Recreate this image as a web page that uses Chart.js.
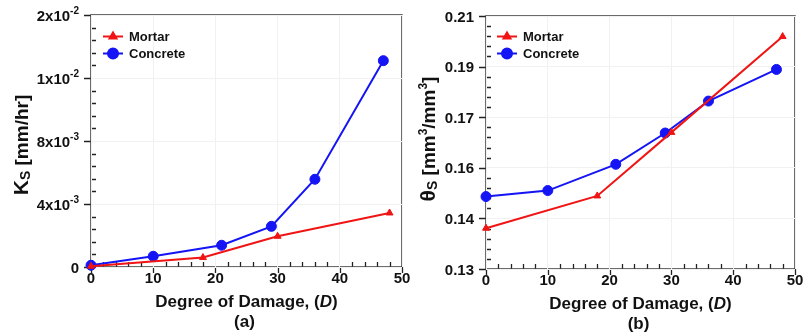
<!DOCTYPE html>
<html>
<head>
<meta charset="utf-8">
<script src="https://cdn.jsdelivr.net/npm/chart.js@4.4.1/dist/chart.umd.min.js"></script>
<style>
  html, body { margin: 0; padding: 0; background: #fff; }
  #wrap { position: relative; width: 804px; height: 335px; }
  #wrap canvas { position: absolute; left: 0; top: 0; }
</style>
</head>
<body>
<div id="wrap">
  <canvas id="ks" width="804" height="335"></canvas>
  <canvas id="theta" width="804" height="335"></canvas>
</div>
<script>
// Degree of damage at which each material was measured
const DAMAGE_MORTAR = [0, 18, 30, 48];
const DAMAGE_CONCRETE = [0, 10, 21, 29, 36, 47];

// Saturated hydraulic conductivity Ks [mm/hr]
const KS_MORTAR = [0.00005, 0.0006, 0.00195, 0.00343];
const KS_CONCRETE = [0.00011, 0.00068, 0.00138, 0.00258, 0.00557, 0.0131];

// Saturated water content θs [mm3/mm3]
const THETA_MORTAR = [0.1429, 0.1531, 0.1732, 0.2035];
const THETA_CONCRETE = [0.1529, 0.1548, 0.1631, 0.1730, 0.1831, 0.1931];

// Axis ticks and their printed labels (mantissa, exponent)
const X_TICKS = [0, 10, 20, 30, 40, 50];
const KS_TICKS = [0, 0.004, 0.008, 0.012, 0.016];
const KS_TICK_LABELS = [['0', ''], ['4x10', '-3'], ['8x10', '-3'], ['1x10', '-2'], ['2x10', '-2']];
const THETA_TICKS = [0.13, 0.146, 0.162, 0.178, 0.194, 0.21];
const THETA_TICK_LABELS = ['0.13', '0.14', '0.16', '0.17', '0.19', '0.21'];

const SERIES_NAMES = ['Mortar', 'Concrete'];
const RED = '#f01414';
const BLUE = '#1414f5';
const FONT = '"Liberation Sans", Arial, sans-serif';
const MINOR_DIV = 5;

function pairs(xs, ys) { return xs.map((x, i) => ({ x: x, y: ys[i] })); }

// Draw a run of text pieces (each with its own size / offset) as one label
function drawParts(ctx, parts, x, baseline, align) {
  let w = 0;
  parts.forEach(p => {
    ctx.font = (p.italic ? 'italic ' : '') + 'bold ' + p.size + 'px ' + FONT;
    p.w = ctx.measureText(p.text).width;
    w += p.w;
  });
  let cx = align === 'right' ? x - w : align === 'center' ? x - w / 2 : x;
  ctx.textAlign = 'left';
  ctx.textBaseline = 'alphabetic';
  parts.forEach(p => {
    ctx.font = (p.italic ? 'italic ' : '') + 'bold ' + p.size + 'px ' + FONT;
    ctx.fillText(p.text, cx, baseline + (p.dy || 0));
    cx += p.w;
  });
}

function makeDecor(cfg) {
  return {
    id: 'decor',
    afterDatasetsDraw(chart) {
      // frame and tick marks sit above the grid; markers are redrawn on top below
      const ctx = chart.ctx;
      const a = chart.chartArea;
      const xs = chart.scales.x, ys = chart.scales.y;
      ctx.save();
      ctx.globalCompositeOperation = 'destination-over';
      ctx.strokeStyle = '#3a3a3a';
      ctx.lineWidth = 1.5;
      ctx.strokeRect(a.left, a.top, a.right - a.left, a.bottom - a.top);
      ctx.lineWidth = 1.3;
      ctx.strokeStyle = '#222';
      ctx.beginPath();
      // x ticks: major outward, minor inward
      const xt = cfg.xTicks;
      for (let i = 0; i < xt.length; i++) {
        const px = Math.round(xs.getPixelForValue(xt[i])) + 0.5;
        ctx.moveTo(px, a.bottom); ctx.lineTo(px, a.bottom + 6);
        if (i < xt.length - 1) {
          const step = (xt[i + 1] - xt[i]) / MINOR_DIV;
          for (let k = 1; k < MINOR_DIV; k++) {
            const mx = Math.round(xs.getPixelForValue(xt[i] + k * step)) + 0.5;
            ctx.moveTo(mx, a.bottom); ctx.lineTo(mx, a.bottom - 5);
          }
        }
      }
      const yt = cfg.yTicks;
      for (let i = 0; i < yt.length; i++) {
        const py = Math.round(ys.getPixelForValue(yt[i])) + 0.5;
        ctx.moveTo(a.left, py); ctx.lineTo(a.left - 7, py);
        if (i < yt.length - 1) {
          const step = (yt[i + 1] - yt[i]) / MINOR_DIV;
          for (let k = 1; k < MINOR_DIV; k++) {
            const my = Math.round(ys.getPixelForValue(yt[i] + k * step)) + 0.5;
            ctx.moveTo(a.left, my); ctx.lineTo(a.left + 5, my);
          }
        }
      }
      ctx.stroke();
      ctx.restore();
    },
    afterDraw(chart) {
      const ctx = chart.ctx;
      const a = chart.chartArea;
      const xs = chart.scales.x, ys = chart.scales.y;
      const midX = (a.left + a.right) / 2;
      ctx.save();
      ctx.fillStyle = '#111';
      // x tick labels
      cfg.xTicks.forEach(v => {
        drawParts(ctx, [{ text: String(v), size: 15 }], xs.getPixelForValue(v), a.bottom + 16, 'center');
      });
      // y tick labels
      cfg.yTicks.forEach((v, i) => {
        drawParts(ctx, cfg.yLabel(i), a.left - 12, ys.getPixelForValue(v) + 5.5, 'right');
      });
      // x title and panel caption
      drawParts(ctx, [
        { text: 'Degree of Damage, (', size: 17 },
        { text: 'D', size: 17, italic: true },
        { text: ')', size: 17 }
      ], midX, a.bottom + 40, 'center');
      drawParts(ctx, [{ text: cfg.caption, size: 17 }], midX - 2, a.bottom + 60, 'center');
      // rotated y title
      ctx.translate(cfg.yTitleX, cfg.yTitleY);
      ctx.rotate(-Math.PI / 2);
      drawParts(ctx, cfg.yTitle, 0, 7, 'center');
      ctx.restore();

      // legend
      ctx.save();
      const lx = a.left + cfg.legendDx;
      const rows = [
        { name: SERIES_NAMES[0], color: RED, style: 'triangle', r: 4, y: 36.5 },
        { name: SERIES_NAMES[1], color: BLUE, style: 'circle', r: 5, y: 53.5 }
      ];
      rows.forEach(row => {
        ctx.strokeStyle = row.color;
        ctx.lineWidth = 2;
        ctx.beginPath();
        ctx.moveTo(lx, row.y); ctx.lineTo(lx + 20, row.y);
        ctx.stroke();
        ctx.fillStyle = row.color;
        Chart.helpers.drawPoint(ctx, { pointStyle: row.style, radius: row.r, rotation: 0, borderWidth: 1 }, lx + 10, row.y);
        ctx.fillStyle = '#111';
        drawParts(ctx, [{ text: row.name, size: 13 }], lx + 26, row.y + 4.6, 'left');
      });
      ctx.restore();
    }
  };
}

function zeroFitY(s) { s.width = 0; }
function zeroFitX(s) { s.height = 0; }

function makeChart(id, opts) {
  const grid = { color: '#f1f1f1', lineWidth: 1, drawTicks: false };
  return new Chart(document.getElementById(id), {
    type: 'line',
    data: {
      datasets: [
        {
          label: SERIES_NAMES[0], data: pairs(DAMAGE_MORTAR, opts.mortar),
          borderColor: RED, backgroundColor: RED, borderWidth: 2,
          pointStyle: 'triangle', pointRadius: 4, pointBorderWidth: 1, pointBorderColor: RED,
          tension: 0, clip: false
        },
        {
          label: SERIES_NAMES[1], data: pairs(DAMAGE_CONCRETE, opts.concrete),
          borderColor: BLUE, backgroundColor: BLUE, borderWidth: 2,
          pointStyle: 'circle', pointRadius: 5, pointBorderWidth: 1, pointBorderColor: BLUE,
          tension: 0, clip: false
        }
      ]
    },
    options: {
      responsive: false,
      animation: false,
      devicePixelRatio: 1,
      events: [],
      layout: { padding: opts.padding },
      plugins: { legend: { display: false }, tooltip: { enabled: false } },
      scales: {
        x: {
          type: 'linear', min: 0, max: 50,
          afterBuildTicks: s => { s.ticks = X_TICKS.map(v => ({ value: v })); },
          afterFit: zeroFitX,
          ticks: { display: false }, grid: grid, border: { display: false }
        },
        y: {
          type: 'linear', min: opts.yTicks[0], max: opts.yTicks[opts.yTicks.length - 1],
          afterBuildTicks: s => { s.ticks = opts.yTicks.map(v => ({ value: v })); },
          afterFit: zeroFitY,
          ticks: { display: false }, grid: grid, border: { display: false }
        }
      }
    },
    plugins: [makeDecor(opts)]
  });
}

// (a) hydraulic conductivity
makeChart('ks', {
  mortar: KS_MORTAR, concrete: KS_CONCRETE,
  padding: { left: 91, right: 402, top: 15, bottom: 68 },
  xTicks: X_TICKS, yTicks: KS_TICKS,
  yLabel: i => [
    { text: KS_TICK_LABELS[i][0], size: 15 },
    { text: KS_TICK_LABELS[i][1], size: 10, dy: -7 }
  ],
  yTitle: [
    { text: 'K', size: 21 },
    { text: 'S', size: 14, dy: 2 },
    { text: ' [mm/hr]', size: 19 }
  ],
  yTitleX: 21, yTitleY: 145,
  caption: '(a)', legendDx: 12
});

// (b) saturated water content
makeChart('theta', {
  mortar: THETA_MORTAR, concrete: THETA_CONCRETE,
  padding: { left: 486, right: 9, top: 16, bottom: 66 },
  xTicks: X_TICKS, yTicks: THETA_TICKS,
  yLabel: i => [{ text: THETA_TICK_LABELS[i], size: 15 }],
  yTitle: [
    { text: 'θ', size: 21 },
    { text: 'S', size: 14, dy: 2 },
    { text: ' [mm', size: 19 },
    { text: '3', size: 12, dy: -8 },
    { text: '/mm', size: 19 },
    { text: '3', size: 12, dy: -8 },
    { text: ']', size: 19 }
  ],
  yTitleX: 428, yTitleY: 139,
  caption: '(b)', legendDx: 11
});
</script>
</body>
</html>
